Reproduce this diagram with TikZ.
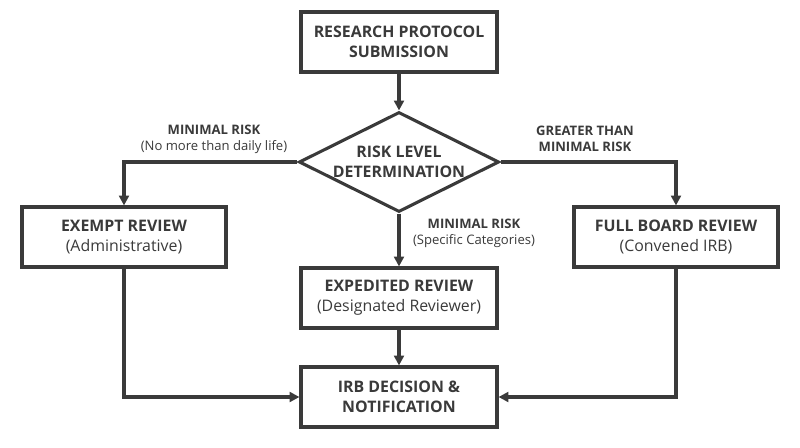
\documentclass[tikz,border=0pt]{standalone}
\usepackage{fontspec}
\setmainfont{Open Sans}
\usetikzlibrary{shapes.geometric,arrows.meta}
\definecolor{ink}{HTML}{3A3A3A}
\begin{document}
\begin{tikzpicture}[x=0.025cm,y=-0.025cm,>={Triangle[length=7pt,width=7pt]},
  box/.style={draw=ink,line width=2.2pt,minimum width=4.9cm,minimum height=1.5cm,align=center,text=ink,font=\fontsize{11.3}{14}\selectfont,inner sep=2pt},
  link/.style={draw=ink,line width=2.2pt,->},
  tag/.style={align=center,text=ink,font=\fontsize{9.3}{11.5}\selectfont}]
  \useasboundingbox (0,0) rectangle (800,447);
  \node[box]          (submit)  at (399,42)  {\textbf{RESEARCH PROTOCOL}\\\textbf{SUBMISSION}};
  \node[draw=ink,line width=2.2pt,diamond,aspect=2,minimum width=5cm,minimum height=2.5cm,inner sep=0pt,align=center,text=ink,font=\fontsize{11.3}{14}\selectfont] (risk) at (399,162) {\textbf{RISK LEVEL}\\\textbf{DETERMINATION}};
  \node[box,minimum width=5.1cm] (exempt)  at (124,237) {\textbf{EXEMPT REVIEW}\\(Administrative)};
  \node[box,minimum width=5.1cm] (full)    at (676,237) {\textbf{FULL BOARD REVIEW}\\(Convened IRB)};
  \node[box]          (expedite) at (399,298) {\textbf{EXPEDITED REVIEW}\\(Designated Reviewer)};
  \node[box]          (decision) at (399,397) {\textbf{IRB DECISION \&}\\\textbf{NOTIFICATION}};
  \path[link] (submit) -- (risk);
  \path[link] (risk.west) -| (exempt.north);
  \path[link] (risk.east) -| (full.north);
  \path[link] (risk.south) -- (expedite);
  \path[link] (expedite) -- (decision);
  \path[link] (exempt.south) |- (decision.west);
  \path[link] (full.south) |- (decision.east);
  \node[tag] (lbl1) at (214,139) {\textbf{MINIMAL RISK}\\(No more than daily life)};
  \node[tag] (lbl2) at (585,139) {\textbf{GREATER THAN}\\\textbf{MINIMAL RISK}};
  \node[tag] (lbl3) at (474,233) {\textbf{MINIMAL RISK}\\(Specific Categories)};
\end{tikzpicture}
\end{document}
